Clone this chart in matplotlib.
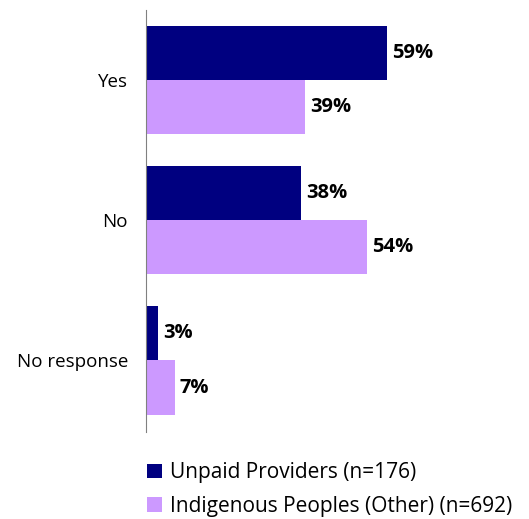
import matplotlib.pyplot as plt
import numpy as np

plt.rcParams['font.family'] = ['Open Sans', 'DejaVu Sans']

categories = ['Yes', 'No', 'No response']
unpaid = [59, 38, 3]
indigenous = [39, 54, 7]
series_names = ['Unpaid Providers (n=176)', 'Indigenous Peoples (Other) (n=692)']
colors = ['#000080', '#CC99FF']

fig = plt.figure(figsize=(5.29, 5.19), dpi=100)
ax = fig.add_axes([146 / 529, 1 - 432 / 519, 368 / 529, 422 / 519])

y = np.arange(len(categories))
h = 0.386
b1 = ax.barh(y - h / 2, unpaid, height=h, color=colors[0], label=series_names[0])
b2 = ax.barh(y + h / 2, indigenous, height=h, color=colors[1], label=series_names[1])

for bars, vals in [(b1, unpaid), (b2, indigenous)]:
    for bar, v in zip(bars, vals):
        ax.text(v + 1.2, bar.get_y() + bar.get_height() / 2, f'{v}%',
                va='center', ha='left', fontsize=14.5, fontweight='bold')

ax.set_xlim(0, 90)
ax.set_ylim(2.51, -0.5)
ax.set_yticks(y)
ax.set_yticklabels(categories, fontsize=13.5)
ax.tick_params(axis='y', length=0, pad=13)
ax.set_xticks([])
for s in ['top', 'right', 'bottom']:
    ax.spines[s].set_visible(False)
ax.spines['left'].set_color('#808080')

fig.legend(handles=[b1, b2], labels=series_names, loc='upper left',
           bbox_to_anchor=(139 / 529, 1 - 454 / 519), frameon=False,
           fontsize=15, handlelength=0.72, handleheight=0.72, handletextpad=0.35,
           labelspacing=0.6, borderaxespad=0)

fig.savefig('out.png', dpi=100)
